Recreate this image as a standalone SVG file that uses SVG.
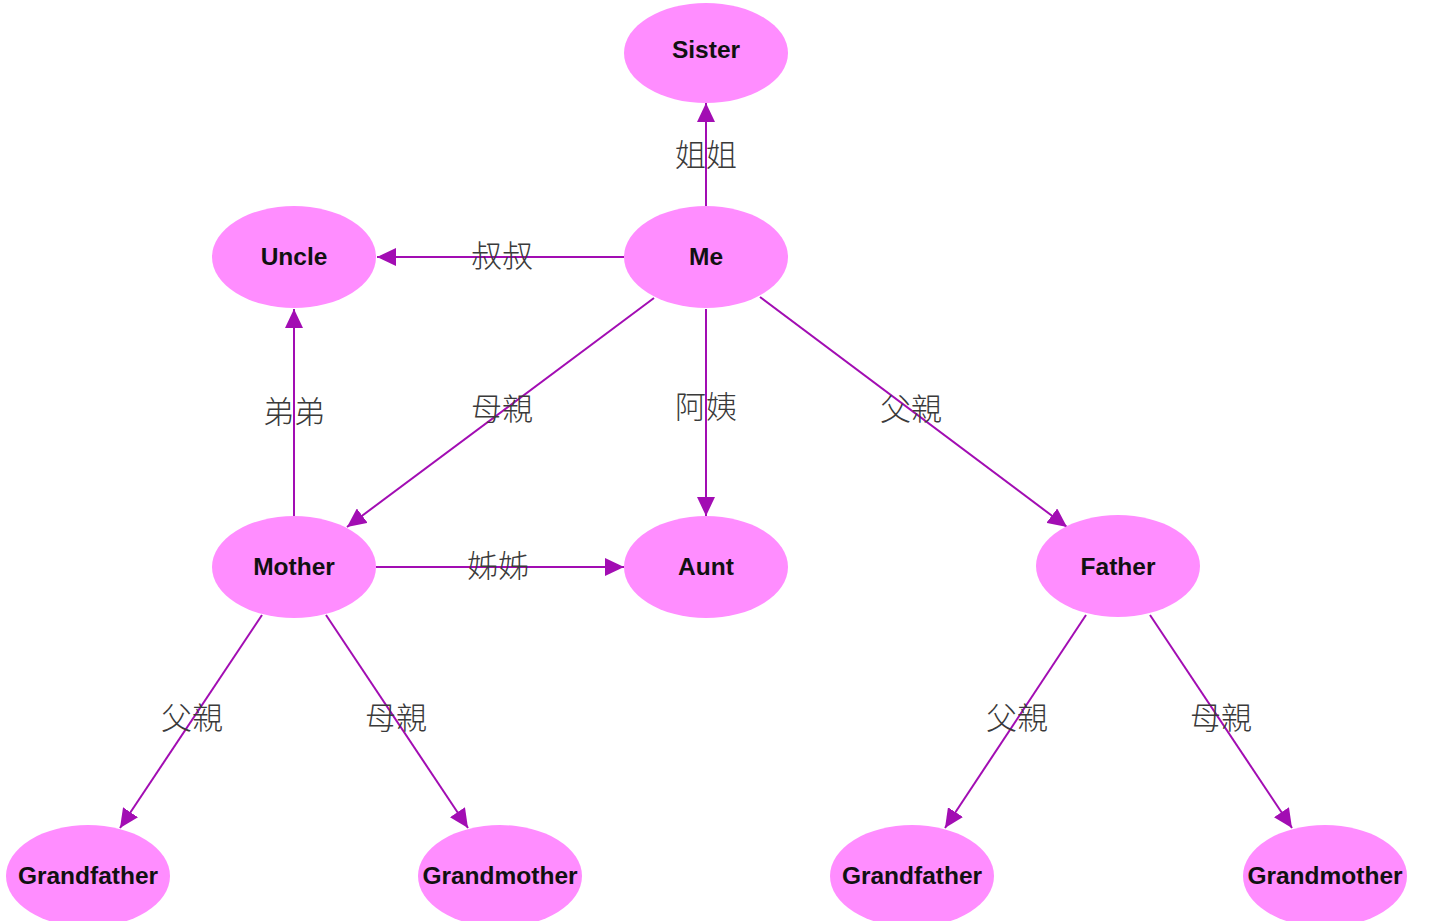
<svg xmlns="http://www.w3.org/2000/svg" width="1450" height="921" viewBox="0 0 1450 921">
<style>
.node ellipse{fill:#ff8dff;}
.node text{font-family:"Liberation Sans",Arial,sans-serif;font-weight:bold;font-size:24.5px;fill:#111;text-anchor:middle;dominant-baseline:central;}
.edges line{stroke:#a20db3;stroke-width:2;}
.lbl{font-family:"Noto Sans CJK TC","Noto Sans CJK SC",sans-serif;font-size:31px;fill:#3a3a3a;text-anchor:middle;dominant-baseline:central;font-weight:300;}
</style>
<defs>
<marker id="arr" markerUnits="userSpaceOnUse" markerWidth="20" markerHeight="18" refX="19" refY="9" orient="auto">
<path d="M0,0 L19,9 L0,18 Z" fill="#a20db3"/>
</marker>
</defs>
<rect width="1450" height="921" fill="#fff"/>
<g id="edges" class="edges">
<line x1="706" y1="206" x2="706" y2="103" marker-end="url(#arr)"/>
<line x1="624" y1="257" x2="377" y2="257" marker-end="url(#arr)"/>
<line x1="654" y1="298" x2="347" y2="527" marker-end="url(#arr)"/>
<line x1="706" y1="309" x2="706" y2="516" marker-end="url(#arr)"/>
<line x1="760" y1="297" x2="1067" y2="527" marker-end="url(#arr)"/>
<line x1="294" y1="516" x2="294" y2="309" marker-end="url(#arr)"/>
<line x1="376" y1="567" x2="624" y2="567" marker-end="url(#arr)"/>
<line x1="262" y1="615" x2="120" y2="828" marker-end="url(#arr)"/>
<line x1="326" y1="615" x2="468" y2="828" marker-end="url(#arr)"/>
<line x1="1086" y1="615" x2="945" y2="828" marker-end="url(#arr)"/>
<line x1="1150" y1="615" x2="1292" y2="828" marker-end="url(#arr)"/>
</g>
<g id="labels">
<text class="lbl" x="706" y="152">姐姐</text>
<text class="lbl" x="502" y="253">叔叔</text>
<text class="lbl" x="502" y="406">母親</text>
<text class="lbl" x="706" y="404">阿姨</text>
<text class="lbl" x="911" y="406">父親</text>
<text class="lbl" x="294" y="409">弟弟</text>
<text class="lbl" x="498" y="563">姊姊</text>
<text class="lbl" x="192" y="715">父親</text>
<text class="lbl" x="396" y="715">母親</text>
<text class="lbl" x="1017" y="715">父親</text>
<text class="lbl" x="1221" y="715">母親</text>
</g>
<g id="sister" class="node"><ellipse cx="706" cy="53" rx="82" ry="50"/><text x="706" y="49">Sister</text></g>
<g id="me" class="node"><ellipse cx="706" cy="257" rx="82" ry="51"/><text x="706" y="256">Me</text></g>
<g id="uncle" class="node"><ellipse cx="294" cy="257" rx="82" ry="51"/><text x="294" y="256">Uncle</text></g>
<g id="mother" class="node"><ellipse cx="294" cy="567" rx="82" ry="51"/><text x="294" y="566">Mother</text></g>
<g id="aunt" class="node"><ellipse cx="706" cy="567" rx="82" ry="51"/><text x="706" y="566">Aunt</text></g>
<g id="father" class="node"><ellipse cx="1118" cy="566" rx="82" ry="51"/><text x="1118" y="566">Father</text></g>
<g id="grandfather1" class="node"><ellipse cx="88" cy="876" rx="82" ry="51"/><text x="88" y="875">Grandfather</text></g>
<g id="grandmother1" class="node"><ellipse cx="500" cy="876" rx="82" ry="51"/><text x="500" y="875">Grandmother</text></g>
<g id="grandfather2" class="node"><ellipse cx="912" cy="876" rx="82" ry="51"/><text x="912" y="875">Grandfather</text></g>
<g id="grandmother2" class="node"><ellipse cx="1325" cy="876" rx="82" ry="51"/><text x="1325" y="875">Grandmother</text></g>
</svg>
